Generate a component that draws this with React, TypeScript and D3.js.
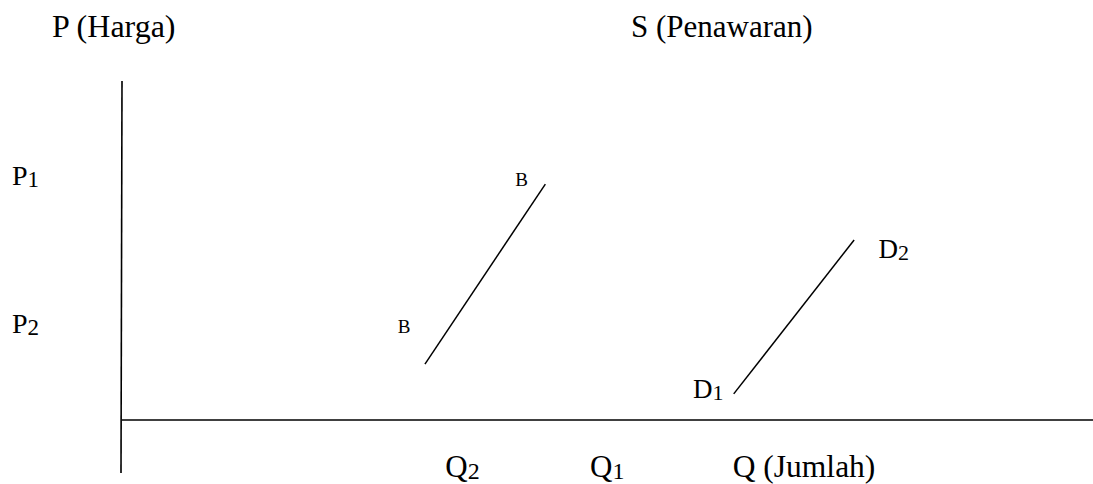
import React from "react";
import * as d3 from "d3";

// Curves (abstract units: quantity 0..10, price 0..10)
const curveB = [
  { q: 3.12, p: 1.65 },
  { q: 4.36, p: 6.96 },
];
const curveD = [
  { q: 6.3, p: 0.77 },
  { q: 7.54, p: 5.31 },
];
// Axis tick labels
const priceTicks = [
  { name: "P", sub: "1", p: 6.93 },
  { name: "P", sub: "2", p: 2.57 },
];
const quantityTicks = [
  { name: "Q", sub: "2", q: 3.33 },
  { name: "Q", sub: "1", q: 4.82 },
];
const axisTitles = { price: "P (Harga)", supply: "S (Penawaran)", quantity: "Q (Jumlah)" };
const curveLabels = [
  { name: "B", sub: "", q: 4.05, p: 6.9, small: true },
  { name: "B", sub: "", q: 2.84, p: 2.57, small: true },
  { name: "D", sub: "2", q: 7.79, p: 4.78, small: false },
  { name: "D", sub: "1", q: 5.88, p: 0.65, small: false },
];

const W = 1093;
const H = 484;
const FONT = "'Liberation Serif', 'Times New Roman', serif";

export default function App() {
  const x = d3.scaleLinear().domain([0, 10]).range([122, 1093]);
  const y = d3.scaleLinear().domain([0, 10]).range([420, 81]);
  const line = d3
    .line<{ q: number; p: number }>()
    .x((d) => x(d.q))
    .y((d) => y(d.p));

  const sub = (s: string, size: number) =>
    s ? (
      <tspan fontSize={size} dy={2}>
        {s}
      </tspan>
    ) : null;

  return (
    <svg
      width={W}
      height={H}
      style={{ position: "absolute", left: 0, top: 0, background: "#fff" }}
      fontFamily={FONT}
      fill="#000"
    >
      {/* axes */}
      <line x1={x(0)} y1={y(10)} x2={x(0) - 1} y2={473} stroke="#000" strokeWidth={1.6} />
      <line x1={x(0)} y1={y(0)} x2={x(10)} y2={y(0)} stroke="#000" strokeWidth={1.6} />

      {/* curves */}
      <path d={line(curveB) || ""} stroke="#000" strokeWidth={1.5} fill="none" />
      <path d={line(curveD) || ""} stroke="#000" strokeWidth={1.5} fill="none" />

      {/* titles */}
      <text x={52} y={37} fontSize={32}>
        {axisTitles.price}
      </text>
      <text x={631} y={37} fontSize={31}>
        {axisTitles.supply}
      </text>
      <text x={x(6.29)} y={477} fontSize={31.5}>
        {axisTitles.quantity}
      </text>

      {/* price tick labels */}
      {priceTicks.map((t, i) => (
        <text key={"p" + i} x={12} y={y(t.p)} fontSize={28}>
          {t.name}
          {sub(t.sub, 23)}
        </text>
      ))}

      {/* quantity tick labels */}
      {quantityTicks.map((t, i) => (
        <text key={"q" + i} x={x(t.q)} y={477} fontSize={31}>
          {t.name}
          {sub(t.sub, 24)}
        </text>
      ))}

      {/* curve labels */}
      {curveLabels.map((t, i) => (
        <text key={"c" + i} x={x(t.q)} y={y(t.p)} fontSize={t.small ? 19 : 27}>
          {t.name}
          {sub(t.sub, 22)}
        </text>
      ))}
    </svg>
  );
}
